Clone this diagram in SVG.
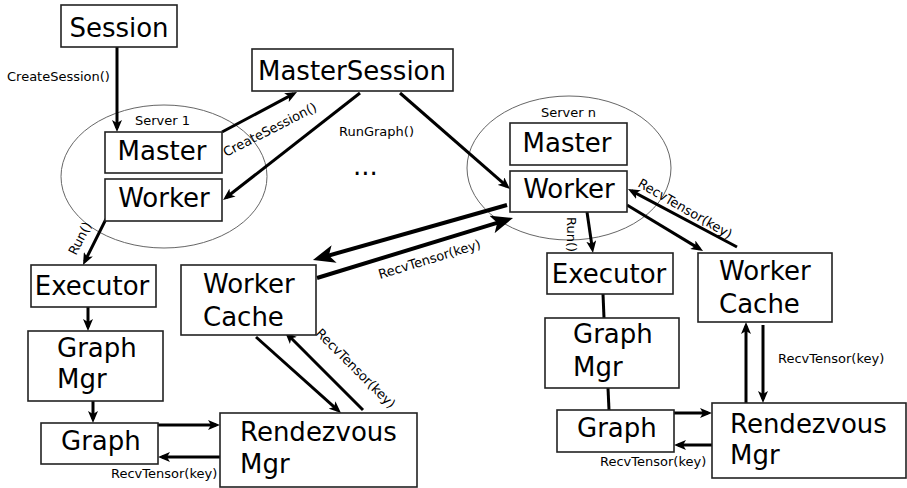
<svg xmlns="http://www.w3.org/2000/svg" width="907" height="488" viewBox="0 0 907 488">
<style>
  .bg{fill:#fff}
  .box{fill:#fff;stroke:#222;stroke-width:1.6}
  .srv{fill:none;stroke:#666;stroke-width:1}
  .big{font-family:"DejaVu Sans","Liberation Sans",sans-serif;font-size:26px;fill:#000}
  .sm{font-family:"DejaVu Sans","Liberation Sans",sans-serif;font-size:13px;fill:#000}
  .ln{stroke:#000;stroke-width:3;fill:none}
  .arr{stroke:#000;stroke-width:3;fill:none;marker-end:url(#ah)}
  .thick{stroke:#000;stroke-width:4;fill:none;marker-end:url(#ahb)}
</style>
<defs>
  <marker id="ah" viewBox="0 0 12 10" refX="8" refY="5" markerWidth="4" markerHeight="3.33" orient="auto">
    <path d="M0,0 L12,5 L0,10 L3,5 z" fill="#000"/>
  </marker>
  <marker id="ahb" viewBox="0 0 12 10" refX="8" refY="5" markerWidth="5.5" markerHeight="4.58" orient="auto">
    <path d="M0,0 L12,5 L0,10 L3,5 z" fill="#000"/>
  </marker>
</defs>
<rect class="bg" x="0" y="0" width="907" height="488"/>

<g id="server1">
  <ellipse class="srv" cx="164" cy="176.5" rx="103" ry="71.5"/>
  <text class="sm" x="135" y="125">Server 1</text>
</g>
<g id="servern">
  <ellipse class="srv" cx="569" cy="168" rx="102" ry="72"/>
  <text class="sm" x="541" y="117">Server n</text>
</g>

<g id="connectors">
  <line class="arr" x1="117" y1="47" x2="117" y2="128"/>
  <line class="arr" x1="222" y1="132" x2="293.5" y2="93.9"/>
  <line class="arr" x1="360" y1="93" x2="226.2" y2="197.5"/>
  <line class="arr" x1="400" y1="93" x2="507" y2="186.4"/>
  <line class="arr" x1="106" y1="219" x2="84.8" y2="261.4"/>
  <line class="arr" x1="88" y1="307" x2="88" y2="327"/>
  <line class="arr" x1="93" y1="401" x2="93" y2="419"/>
  <line class="arr" x1="158" y1="425" x2="216" y2="425"/>
  <line class="arr" x1="220" y1="457" x2="162" y2="457"/>
  <line class="arr" x1="256" y1="337" x2="338" y2="410.3"/>
  <line class="arr" x1="363" y1="410" x2="287.8" y2="334.8"/>
  <line class="thick" x1="507" y1="205" x2="320" y2="258"/>
  <line class="thick" x1="317" y1="278" x2="506" y2="220.1"/>
  <line class="arr" x1="587" y1="212" x2="592.4" y2="249"/>
  <line class="arr" x1="627" y1="205" x2="699.6" y2="248.9"/>
  <line class="arr" x1="737" y1="247" x2="631.5" y2="190.9"/>
  <line class="ln" x1="603" y1="294" x2="604" y2="318"/>
  <line class="ln" x1="608" y1="388" x2="609" y2="410"/>
  <line class="arr" x1="674" y1="413" x2="708" y2="413"/>
  <line class="arr" x1="712" y1="445" x2="678" y2="445"/>
  <line class="arr" x1="746" y1="403" x2="746" y2="326"/>
  <line class="arr" x1="763" y1="325" x2="763" y2="399"/>

  <text class="sm" x="7" y="81">CreateSession()</text>
  <text class="sm" x="0" y="0" transform="translate(226,157) rotate(-27)">CreateSession()</text>
  <text class="sm" x="339" y="136">RunGraph()</text>
  <text class="sm" x="0" y="0" transform="translate(76,256) rotate(-63)">Run()</text>
  <text class="sm" x="0" y="0" transform="translate(567,217) rotate(90)">Run()</text>
  <text class="sm" x="0" y="0" transform="translate(637,186) rotate(30)">RecvTensor(key)</text>
  <text class="sm" x="0" y="0" transform="translate(380,279) rotate(-17)">RecvTensor(key)</text>
  <text class="sm" x="0" y="0" transform="translate(315,334) rotate(45)">RecvTensor(key)</text>
  <text class="sm" x="111" y="478">RecvTensor(key)</text>
  <text class="sm" x="600" y="466">RecvTensor(key)</text>
  <text class="sm" x="778" y="363">RecvTensor(key)</text>
</g>

<text class="big" x="353" y="175">...</text>

<g id="session">
  <rect class="box" x="61" y="5" width="116" height="42"/>
  <text class="big" x="119" y="37" text-anchor="middle">Session</text>
</g>
<g id="mastersession">
  <rect class="box" x="252" y="49" width="201" height="42"/>
  <text class="big" x="352" y="80" text-anchor="middle">MasterSession</text>
</g>
<g id="master1">
  <rect class="box" x="105" y="132" width="117" height="41"/>
  <text class="big" x="162" y="160" text-anchor="middle">Master</text>
</g>
<g id="worker1">
  <rect class="box" x="105" y="179" width="117" height="42"/>
  <text class="big" x="164" y="207" text-anchor="middle">Worker</text>
</g>
<g id="mastern">
  <rect class="box" x="510" y="123" width="117" height="42"/>
  <text class="big" x="567" y="152" text-anchor="middle">Master</text>
</g>
<g id="workern">
  <rect class="box" x="510" y="171" width="117" height="41"/>
  <text class="big" x="569" y="198" text-anchor="middle">Worker</text>
</g>
<g id="executor1">
  <rect class="box" x="31" y="265" width="125" height="42"/>
  <text class="big" x="92" y="295" text-anchor="middle">Executor</text>
</g>
<g id="executorn">
  <rect class="box" x="547" y="253" width="126" height="41"/>
  <text class="big" x="609" y="283" text-anchor="middle">Executor</text>
</g>
<g id="workercache1">
  <rect class="box" x="181" y="265" width="135" height="70"/>
  <text class="big" x="203" y="293">Worker</text>
  <text class="big" x="203" y="326">Cache</text>
</g>
<g id="workercachen">
  <rect class="box" x="698" y="253" width="134" height="69"/>
  <text class="big" x="719" y="280">Worker</text>
  <text class="big" x="719" y="313">Cache</text>
</g>
<g id="graphmgr1">
  <rect class="box" x="28" y="331" width="135" height="70"/>
  <text class="big" x="57" y="357">Graph</text>
  <text class="big" x="57" y="388">Mgr</text>
</g>
<g id="graphmgrn">
  <rect class="box" x="545" y="318" width="134" height="70"/>
  <text class="big" x="573" y="343">Graph</text>
  <text class="big" x="573" y="376">Mgr</text>
</g>
<g id="graph1">
  <rect class="box" x="41" y="423" width="117" height="41"/>
  <text class="big" x="61" y="450">Graph</text>
</g>
<g id="graphn">
  <rect class="box" x="557" y="410" width="117" height="42"/>
  <text class="big" x="577" y="437">Graph</text>
</g>
<g id="rendezvous1">
  <rect class="box" x="220" y="413" width="197" height="74"/>
  <text class="big" x="240" y="441">Rendezvous</text>
  <text class="big" x="240" y="473">Mgr</text>
</g>
<g id="rendezvousn">
  <rect class="box" x="712" y="403" width="194" height="75"/>
  <text class="big" x="730" y="433">Rendezvous</text>
  <text class="big" x="730" y="464">Mgr</text>
</g>
</svg>
